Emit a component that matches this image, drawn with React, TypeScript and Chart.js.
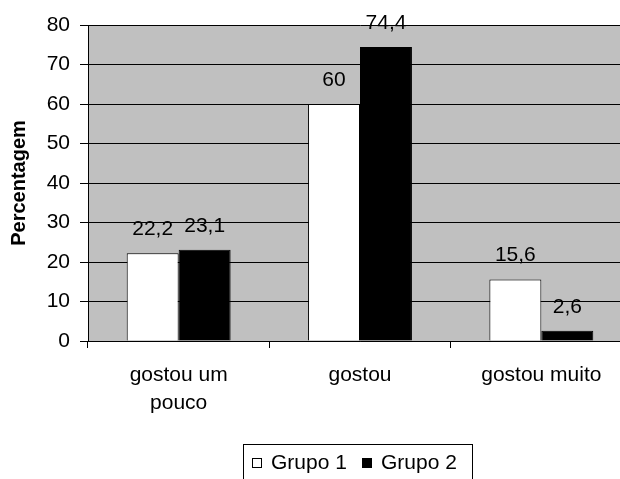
import React, { useEffect, useRef } from "react";
import { Chart, registerables } from "chart.js";

Chart.register(...registerables);

const categories: (string | string[])[] = [["gostou um", "pouco"], "gostou", "gostou muito"];
const seriesNames = ["Grupo 1", "Grupo 2"];
const grupo1 = [22.2, 60, 15.6];
const grupo2 = [23.1, 74.4, 2.6];
const yMin = 0;
const yMax = 80;
const yStep = 10;
const yTitle = "Percentagem";

const FONT = "'Liberation Sans', Arial, sans-serif";

const bgPlugin = {
  id: "plotBg",
  beforeDraw(chart: any) {
    const { ctx, chartArea } = chart;
    ctx.save();
    ctx.fillStyle = "#c0c0c0";
    ctx.fillRect(chartArea.left, chartArea.top, chartArea.right - chartArea.left, chartArea.bottom - chartArea.top);
    ctx.restore();
  },
};

const labelPlugin = {
  id: "barLabels",
  afterDatasetsDraw(chart: any) {
    const { ctx } = chart;
    ctx.save();
    ctx.font = `21px ${FONT}`;
    ctx.fillStyle = "#000";
    ctx.textAlign = "center";
    ctx.textBaseline = "middle";
    chart.data.datasets.forEach((ds: any, i: number) => {
      const meta = chart.getDatasetMeta(i);
      meta.data.forEach((bar: any, j: number) => {
        const v = ds.data[j];
        ctx.fillText(String(v).replace(".", ","), bar.x, bar.y - 24);
      });
    });
    ctx.restore();
  },
};

const legendPlugin = {
  id: "boxLegend",
  afterDraw(chart: any) {
    const { ctx } = chart;
    ctx.save();
    ctx.lineWidth = 1;
    ctx.strokeStyle = "#000";
    ctx.strokeRect(243.5, 444.5, 229, 40);
    ctx.font = `21px ${FONT}`;
    ctx.textBaseline = "middle";
    ctx.textAlign = "left";
    const items = [
      { x: 252, fill: "#ffffff" },
      { x: 362, fill: "#000000" },
    ];
    chart.data.datasets.forEach((ds: any, i: number) => {
      const it = items[i];
      ctx.fillStyle = it.fill;
      ctx.fillRect(it.x + 0.5, 458.5, 9, 9);
      ctx.strokeRect(it.x + 0.5, 458.5, 9, 9);
      ctx.fillStyle = "#000";
      ctx.fillText(ds.label, it.x + 19, 463);
    });
    ctx.restore();
  },
};

export default function App() {
  const ref = useRef<HTMLCanvasElement>(null);
  useEffect(() => {
    document.body.style.margin = "0";
    const chart = new Chart(ref.current as HTMLCanvasElement, {
      type: "bar",
      data: {
        labels: categories as any,
        datasets: [
          {
            label: seriesNames[0],
            data: grupo1,
            backgroundColor: "#ffffff",
            borderColor: "#000000",
            borderWidth: 1,
          },
          {
            label: seriesNames[1],
            data: grupo2,
            backgroundColor: "#000000",
            borderColor: "#000000",
            borderWidth: 1,
          },
        ],
      },
      options: {
        responsive: false,
        animation: false,
        layout: { padding: { top: 25, right: 0, left: 0, bottom: 0 } },
        datasets: { bar: { barPercentage: 1, categoryPercentage: 0.573 } },
        plugins: { legend: { display: false }, tooltip: { enabled: false } },
        scales: {
          x: {
            grid: { drawOnChartArea: false, drawTicks: true, tickLength: 7, color: "#000", offset: true },
            border: { color: "#000" },
            ticks: { font: { family: FONT, size: 21, lineHeight: 1.34 }, color: "#000", padding: 13, maxRotation: 0 },
            afterFit: (s: any) => {
              s.height = 138;
            },
          },
          y: {
            min: yMin,
            max: yMax,
            ticks: { stepSize: yStep, font: { family: FONT, size: 21 }, color: "#000", padding: 10 },
            grid: { color: "#000", tickLength: 8 },
            border: { color: "#000" },
            title: { display: true, text: yTitle, font: { family: FONT, size: 20, weight: "bold" }, color: "#000", padding: { top: 7, bottom: 4 } },
            afterFit: (s: any) => {
              s.width = 88;
            },
          },
        },
      },
      plugins: [bgPlugin, labelPlugin, legendPlugin],
    });
    return () => chart.destroy();
  }, []);
  return (
    <div style={{ width: 620, height: 479, overflow: "hidden" }}>
      <canvas ref={ref} width={632} height={479} style={{ display: "block" }} />
    </div>
  );
}
